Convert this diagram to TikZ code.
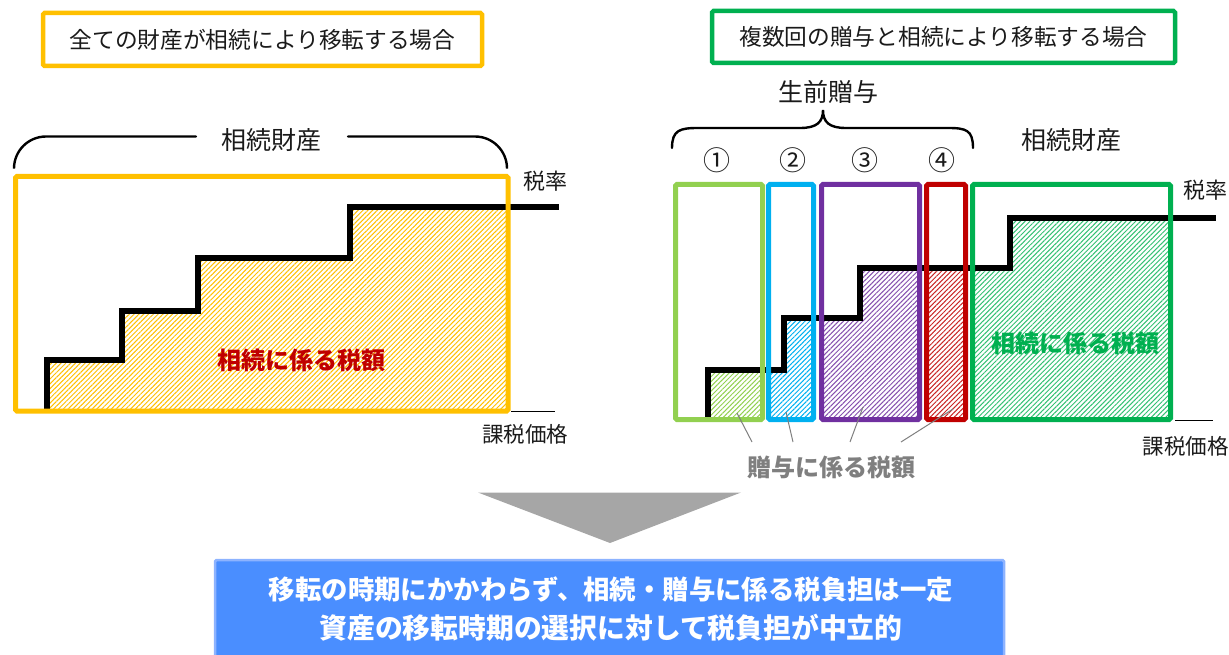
\documentclass[tikz,border=0pt]{standalone}
\usepackage{fontspec}
\setmainfont{Noto Sans CJK JP}
\usetikzlibrary{patterns.meta}
\definecolor{cOrange}{HTML}{FFC000}
\definecolor{cLgreen}{HTML}{92D050}
\definecolor{cCyan}{HTML}{00B0F0}
\definecolor{cPurple}{HTML}{7030A0}
\definecolor{cRed}{HTML}{C00000}
\definecolor{cGreen}{HTML}{00B050}
\definecolor{cGrayTxt}{HTML}{7F7F7F}
\definecolor{cArrow}{HTML}{A6A6A6}
\definecolor{cBlue}{HTML}{4A8EFF}
\definecolor{cBlueEdge}{HTML}{8DB3FF}
\definecolor{cText}{HTML}{1A1A1A}
\tikzset{
  titlebox/.style={draw=#1, line width=4.5, rounded corners=1.5, inner sep=0, outer sep=0, text=cText,
    font=\fontsize{22.7}{26}\selectfont},
  chartbox/.style={draw=#1, line width=5, rounded corners=1.5, inner sep=0, outer sep=0, anchor=north west},
  hatch/.style={pattern={Lines[angle=45,distance=3.4pt,line width=1.0pt]}, pattern color=#1},
  stepline/.style={line width=6, line join=miter, black},
  axisline/.style={line width=1.6, black},
  lbl/.style={text=cText, inner sep=0, font=\fontsize{#1}{#1}\selectfont},
  bracel/.style={line width=2.4, black, line cap=round},
  leader/.style={line width=1, cGrayTxt},
  boldlbl/.style={text=#1, inner sep=0, font=\bfseries\fontsize{24}{24}\selectfont},
}
\begin{document}
\begin{tikzpicture}[x=1pt,y=-1pt]
\useasboundingbox (0,0) rectangle (1229,655);

% ---------------- left panel ----------------
\node[titlebox=cOrange, minimum width=439, minimum height=53] (tL) at (262.5,39.5) {全ての財産が相続により移転する場合};

\node[lbl=25] (zaisanL) at (271,140) {相続財産};
\coordinate (brL1) at (14,168);
\coordinate (brL2) at (507,168);
\draw[bracel, rounded corners=32] (brL1) -- (14,136.5) -- (196,136.5);
\draw[bracel, rounded corners=32] (348,136.5) -- (507,136.5) -- (brL2);

% fill under steps
\begin{scope}
  \clip (15.5,176.5) rectangle (508,411);
  \fill[white] (47,411) -- (47,360) -- (122,360) -- (122,311) -- (198,311) -- (198,258) -- (350,258) -- (350,207) -- (508,207) -- (508,411) -- cycle;
  \fill[hatch=cOrange] (47,411) -- (47,360) -- (122,360) -- (122,311) -- (198,311) -- (198,258) -- (350,258) -- (350,207) -- (508,207) -- (508,411) -- cycle;
\end{scope}
\draw[stepline] (47,411) -- (47,360) -- (122,360) -- (122,311) -- (198,311) -- (198,258) -- (350,258) -- (350,207) -- (559,207);
\node[chartbox=cOrange, minimum width=492.5, minimum height=234.5] (boxL) at (15.5,176.5) {};
\coordinate (axL) at (555,411.5);
\draw[axisline] (511,411.5) -- (axL);
\node[lbl=22] (rateL) at (545,181) {税率};
\node[lbl=21.5] (baseL) at (525,434) {課税価格};
\node[boldlbl=cRed] (taxL) at (301.5,360) {相続に係る税額};

% ---------------- right panel ----------------
\node[titlebox=cGreen, minimum width=463, minimum height=52] (tR) at (943.5,37) {複数回の贈与と相続により移転する場合};
\node[lbl=25] (seizen) at (828,92) {生前贈与};
\node[lbl=25] (zaisanR) at (1071,140) {相続財産};
\coordinate (brR1) at (672,148);
\coordinate (brR2) at (973,148);
\draw[bracel] (brR1) .. controls (672,130) and (680,128) .. (698,128) -- (800,128)
  .. controls (817,128) and (823,122) .. (823,110)
  .. controls (823,122) and (829,128) .. (846,128) -- (948,128)
  .. controls (966,128) and (973,130) .. (brR2);

\node[lbl=27] (n1) at (717,160) {①};
\node[lbl=27] (n2) at (793,160) {②};
\node[lbl=27] (n3) at (865,160) {③};
\node[lbl=27] (n4) at (942,160) {④};

% fills clipped per box
\def\stepregion{(708,420) -- (708,370) -- (784,370) -- (784,318) -- (860,318) -- (860,268) -- (1010,268) -- (1010,218) -- (1172,218) -- (1172,420) -- cycle}
\begin{scope}\clip (675.5,184.5) rectangle (762.5,419.5); \fill[hatch=cLgreen] \stepregion; \end{scope}
\begin{scope}\clip (768.5,184.5) rectangle (813.5,419.5); \fill[hatch=cCyan] \stepregion; \end{scope}
\begin{scope}\clip (821.5,184.5) rectangle (919.5,419.5); \fill[hatch=cPurple!85] \stepregion; \end{scope}
\begin{scope}\clip (926.5,184.5) rectangle (965.5,419.5); \fill[hatch=cRed!85] \stepregion; \end{scope}
\begin{scope}\clip (972.5,184.5) rectangle (1170.5,419.5); \fill[hatch=cGreen!80] \stepregion; \end{scope}

\draw[stepline] (708,419.5) -- (708,370) -- (784,370) -- (784,318) -- (860,318) -- (860,268) -- (1010,268) -- (1010,218) -- (1216,218);

\node[chartbox=cLgreen, minimum width=87, minimum height=235] (g1) at (675.5,184.5) {};
\node[chartbox=cCyan, minimum width=45, minimum height=235] (g2) at (768.5,184.5) {};
\node[chartbox=cPurple, minimum width=98, minimum height=235] (g3) at (821.5,184.5) {};
\node[chartbox=cRed, minimum width=39, minimum height=235] (g4) at (926.5,184.5) {};
\node[chartbox=cGreen, minimum width=198, minimum height=235] (gS) at (972.5,184.5) {};

\coordinate (axR) at (1213,420.5);
\draw[axisline] (1175,420.5) -- (axR);
\node[lbl=22] (rateR) at (1205.5,190) {税率};
\node[lbl=21.5] (baseR) at (1185.5,446) {課税価格};
\node[boldlbl=cGreen] (taxR) at (1075,343) {相続に係る税額};

\node[boldlbl=cGrayTxt] (giftTax) at (831,467) {贈与に係る税額};
\coordinate (p1) at (737,413);
\coordinate (p2) at (786,412);
\coordinate (p3) at (863,407);
\coordinate (p4) at (953,409);
\draw[leader] (p1) -- (752,442);
\draw[leader] (p2) -- (793,442);
\draw[leader] (p3) -- (850,442);
\draw[leader] (p4) -- (901,442);

% ---------------- arrow and conclusion ----------------
\fill[cArrow] (478,492.5) -- (741,492.5) -- (610,543) -- cycle;
\node[draw=cBlueEdge, fill=cBlue, line width=2.5, rounded corners=1.5, anchor=north west,
  minimum width=789, minimum height=110, inner sep=0, outer sep=0] (concl) at (215,560) {};
\node[text=white, inner sep=0, font=\bfseries\fontsize{26.4}{26.4}\selectfont] (c1) at (611,589) {移転の時期にかかわらず、相続・贈与に係る税負担は一定};
\node[text=white, inner sep=0, font=\bfseries\fontsize{27.8}{27.8}\selectfont] (c2) at (611,628) {資産の移転時期の選択に対して税負担が中立的};
\end{tikzpicture}
\end{document}
